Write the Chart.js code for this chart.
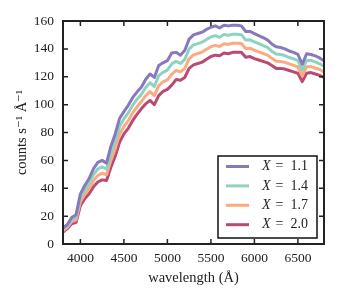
<!DOCTYPE html>
<html>
<head>
<meta charset="utf-8">
<script src="https://cdn.jsdelivr.net/npm/chart.js@4.4.0/dist/chart.umd.min.js"></script>
<style>
  html, body { margin: 0; padding: 0; background: #fff; }
  #wrap { width: 339px; height: 300px; }
</style>
</head>
<body>
<div id="wrap"><canvas id="spec"></canvas></div>
<script>
const wavelength = [3800, 3850, 3900, 3950, 4000, 4050, 4100, 4150, 4200, 4250,
  4300, 4350, 4400, 4450, 4500, 4550, 4600, 4650, 4700, 4750,
  4800, 4850, 4900, 4950, 5000, 5050, 5100, 5150, 5200, 5250,
  5300, 5350, 5400, 5450, 5500, 5550, 5600, 5650, 5700, 5750,
  5800, 5850, 5900, 5950, 6000, 6050, 6100, 6150, 6200, 6250,
  6300, 6350, 6400, 6450, 6500, 6550, 6600, 6650, 6700, 6750, 6800];

const counts11 = [11.5, 14, 19, 21, 36, 42, 47, 54, 58.5, 60,
  58, 70, 79, 90, 95, 99.5, 105, 109, 112.5, 118,
  122, 119.5, 128, 130, 131.5, 137, 137.5, 135.5, 139, 147,
  150, 151, 152, 154, 155.5, 156.5, 155, 157, 156.5, 157,
  157, 156.5, 152.5, 152.5, 151, 149.5, 148, 146.5, 143.5, 141.5,
  141, 140, 138.5, 137.5, 136, 129, 136.5, 136, 135, 133.5, 131.5];

const counts14 = [10.5, 13, 17.5, 19.2, 33.2, 38.8, 43.3, 49.7, 53.8, 55.3,
  53.8, 65, 73.7, 84.3, 89.7, 94, 99.5, 103.7, 107.3, 112.2,
  115.7, 113, 120.8, 123.2, 124.7, 129.3, 131, 129.5, 132.5, 140,
  142.8, 143.8, 144.8, 146.8, 148.5, 149.5, 148.3, 150.3, 149.8, 150.5,
  150.5, 150.2, 146.3, 146.5, 145, 143.7, 142.3, 141, 138.3, 136.3,
  136, 135.2, 133.8, 132.8, 131.5, 124.8, 131.8, 131.7, 130.7, 129.3, 127.5];

const counts17 = [9.5, 12, 16, 17.3, 30.3, 35.7, 39.7, 45.3, 49.2, 50.7,
  49.7, 60, 68.3, 78.7, 84.3, 88.5, 94, 98.3, 102.2, 106.3,
  109.3, 106.5, 113.7, 116.3, 117.8, 121.7, 124.5, 123.5, 126, 133,
  135.7, 136.7, 137.7, 139.7, 141.5, 142.5, 141.7, 143.7, 143.2, 144,
  144, 143.8, 140.2, 140.5, 139, 137.8, 136.7, 135.5, 133.2, 131.2,
  131, 130.3, 129.2, 128.2, 127, 120.7, 127.2, 127.3, 126.3, 125.2, 123.5];

const counts20 = [8.5, 11, 14.5, 15.5, 27.5, 32.5, 36, 41, 44.5, 46,
  45.5, 55, 63, 73, 79, 83, 88.5, 93, 97, 100.5,
  103, 100, 106.5, 109.5, 111, 114, 118, 117.5, 119.5, 126,
  128.5, 129.5, 130.5, 132.5, 134.5, 135.5, 135, 137, 136.5, 137.5,
  137.5, 137.5, 134, 134.5, 133, 132, 131, 130, 128, 126,
  126, 125.5, 124.5, 123.5, 122.5, 116.5, 122.5, 123, 122, 121, 119.5];

const xTicks = [4000, 4500, 5000, 5500, 6000, 6500];
const yTicks = [0, 20, 40, 60, 80, 100, 120, 140, 160];

const airmass = ['1.1', '1.4', '1.7', '2.0'];
const lineColors = ['#8878bd', '#8dd3c0', '#fdaa80', '#b84a73'];

const serif = "'Liberation Serif', 'DejaVu Serif', serif";

function pts(ys) {
  return wavelength.map((w, i) => ({ x: w, y: ys[i] }));
}

const allCounts = [counts11, counts14, counts17, counts20];

const specData = {
  datasets: allCounts.map((ys, i) => ({
    label: 'X = ' + airmass[i],
    data: pts(ys),
    borderColor: lineColors[i],
    borderWidth: 3,
    pointRadius: 0,
    tension: 0,
    borderJoinStyle: 'round',
    fill: false
  }))
};

// inward ticks on all four sides + the frame
const framePlugin = {
  id: 'frame',
  afterDatasetsDraw(chart) {
    const ctx = chart.ctx;
    const a = chart.chartArea;
    const xs = chart.scales.x, ys = chart.scales.y;
    ctx.save();
    ctx.strokeStyle = '#222';
    ctx.lineWidth = 1.5;
    ctx.beginPath();
    xs.ticks.forEach(t => {
      const px = xs.getPixelForValue(t.value);
      ctx.moveTo(px, a.bottom); ctx.lineTo(px, a.bottom - 5);
      ctx.moveTo(px, a.top); ctx.lineTo(px, a.top + 5);
    });
    ys.ticks.forEach(t => {
      const py = ys.getPixelForValue(t.value);
      ctx.moveTo(a.left, py); ctx.lineTo(a.left + 5, py);
      ctx.moveTo(a.right, py); ctx.lineTo(a.right - 5, py);
    });
    ctx.stroke();
    ctx.lineWidth = 2;
    ctx.strokeRect(a.left, a.top, a.right - a.left, a.bottom - a.top);
    ctx.restore();
  }
};

// legend box in the lower right corner of the axes
const boxLegend = {
  id: 'boxLegend',
  afterDraw(chart) {
    const ctx = chart.ctx;
    const a = chart.chartArea;
    const right = a.right - 7, bottom = a.bottom - 6;
    const w = 99, h = 82;
    const left = right - w, top = bottom - h;
    ctx.save();
    ctx.fillStyle = '#fff';
    ctx.fillRect(left, top, w, h);
    ctx.strokeStyle = '#111';
    ctx.lineWidth = 1.5;
    ctx.strokeRect(left, top, w, h);
    chart.data.datasets.forEach((ds, i) => {
      const y = top + 10.5 + i * 19.4;
      ctx.strokeStyle = ds.borderColor;
      ctx.lineWidth = 3;
      ctx.beginPath();
      ctx.moveTo(left + 8, y);
      ctx.lineTo(left + 31, y);
      ctx.stroke();
      ctx.fillStyle = '#222';
      ctx.textBaseline = 'middle';
      ctx.textAlign = 'left';
      ctx.font = 'italic 14px ' + serif;
      ctx.fillText('X', left + 44, y);
      ctx.font = '14px ' + serif;
      ctx.fillText(' =  ' + airmass[i], left + 54, y);
    });
    ctx.restore();
  }
};

const specConfig = {
  type: 'line',
  data: specData,
  plugins: [framePlugin, boxLegend],
  options: {
    responsive: true,
    maintainAspectRatio: false,
    animation: false,
    layout: {
      padding: { top: 21, right: 15, left: 0, bottom: 0 }
    },
    plugins: {
      legend: { display: false },
      tooltip: { enabled: false }
    },
    scales: {
      x: {
        type: 'linear',
        min: 3800,
        max: 6800,
        afterBuildTicks: (s) => { s.ticks = xTicks.map(v => ({ value: v })); },
        afterFit: (s) => { s.height = 56; },
        ticks: {
          padding: 6,
          color: '#222',
          font: { family: serif, size: 13.5 },
          maxRotation: 0,
          autoSkip: false,
          callback: (v) => String(v)
        },
        grid: { display: false, drawTicks: false },
        border: { display: false },
        title: {
          display: true,
          text: 'wavelength (Å)',
          color: '#222',
          font: { family: serif, size: 14.5 },
          padding: { top: 0, bottom: 13 }
        }
      },
      y: {
        min: 0,
        max: 160,
        afterBuildTicks: (s) => { s.ticks = yTicks.map(v => ({ value: v })); },
        afterFit: (s) => { s.width = 63; },
        ticks: {
          padding: 9,
          color: '#222',
          autoSkip: false,
          font: { family: serif, size: 13.5 }
        },
        grid: { display: false, drawTicks: false },
        border: { display: false },
        title: {
          display: true,
          text: 'counts s⁻¹ Å⁻¹',
          color: '#222',
          font: { family: serif, size: 14.5 },
          padding: { top: 13, bottom: 0 }
        }
      }
    }
  }
};

const specChart = new Chart(document.getElementById('spec'), specConfig);
</script>
</body>
</html>
